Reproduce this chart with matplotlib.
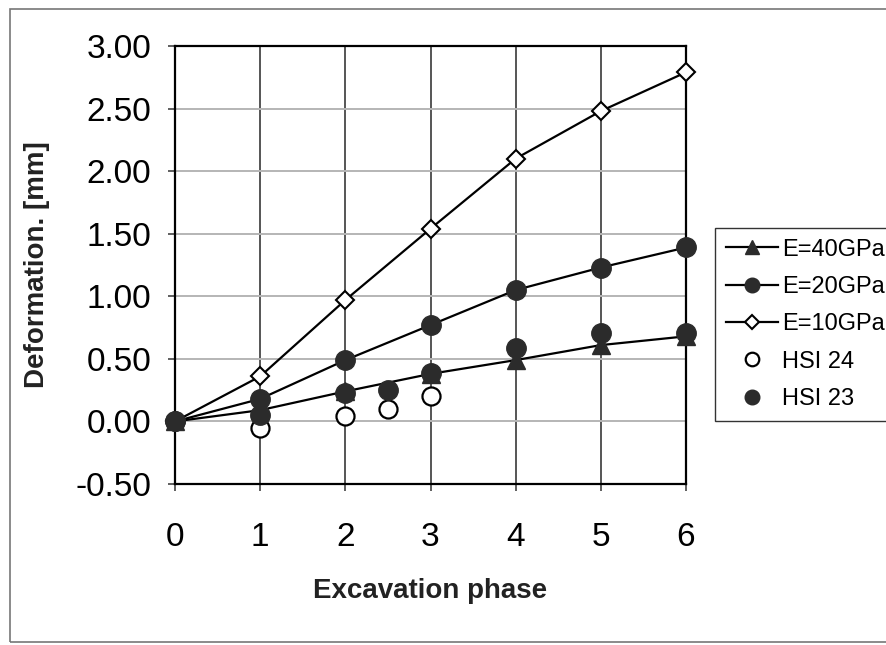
import matplotlib
matplotlib.use("Agg")
import matplotlib.pyplot as plt
from matplotlib.patches import Rectangle

plt.rcParams['font.family'] = ['Liberation Sans', 'DejaVu Sans']

# model curves, one value per excavation phase
phase = [0, 1, 2, 3, 4, 5, 6]
e40 = [0.00, 0.09, 0.24, 0.38, 0.49, 0.61, 0.68]
e20 = [0.00, 0.18, 0.49, 0.77, 1.05, 1.23, 1.39]
e10 = [0.00, 0.36, 0.97, 1.54, 2.10, 2.48, 2.79]

# measurements
hsi24_x = [1, 2, 2.5, 3]
hsi24_y = [-0.05, 0.04, 0.10, 0.20]
hsi23_x = [0, 1, 2, 2.5, 3, 4, 5, 6]
hsi23_y = [0.00, 0.05, 0.23, 0.25, 0.39, 0.59, 0.71, 0.71]

yticks = [-0.5, 0.0, 0.5, 1.0, 1.5, 2.0, 2.5, 3.0]

dark = '#2b2b2b'

fig = plt.figure(figsize=(8.86, 6.45), dpi=100)
ax = fig.add_axes([175/886, 1-484/645, 511/886, 438/645])

# outer frame of the chart area
fig.patches.append(Rectangle((10/886, 3/645), 0.995, 0.982, transform=fig.transFigure,
                             fill=False, edgecolor='#777777', lw=1.2, clip_on=False))

for x in phase[1:-1]:
    ax.axvline(x, color='#555555', lw=1.4, zorder=1)
for y in yticks[1:-1]:
    ax.axhline(y, color='#b5b5b5', lw=1.4, zorder=1)

ax.plot(phase, e40, color='black', lw=1.6, marker='^', ms=13, mfc=dark, mec=dark,
        label='E=40GPa', zorder=3, clip_on=False)
ax.plot(phase, e20, color='black', lw=1.6, marker='o', ms=14, mfc=dark, mec=dark,
        label='E=20GPa', zorder=3, clip_on=False)
ax.plot(phase, e10, color='black', lw=1.6, marker='D', ms=9, mfc='white', mec='black',
        mew=1.5, label='E=10GPa', zorder=3, clip_on=False)
ax.plot(hsi24_x, hsi24_y, ls='none', marker='o', ms=13, mfc='white', mec='black',
        mew=1.6, label='HSI 24', zorder=4, clip_on=False)
ax.plot(hsi23_x, hsi23_y, ls='none', marker='o', ms=14, mfc=dark, mec=dark,
        label='HSI 23', zorder=4, clip_on=False)

ax.set_xlim(0, 6)
ax.set_ylim(-0.5, 3.0)
ax.set_xticks(phase)
ax.set_yticks(yticks)
ax.set_yticklabels(['%.2f' % v for v in yticks])
ax.tick_params(axis='both', direction='out', length=5, width=1.2, labelsize=24, color='#444444')
ax.tick_params(axis='x', pad=22)
ax.tick_params(axis='y', pad=12)
for s in ax.spines.values():
    s.set_linewidth(1.6)

ax.set_xlabel('Excavation phase', fontsize=20, fontweight='bold', color='#222222')
ax.set_ylabel('Deformation. [mm]', fontsize=20, fontweight='bold', color='#222222')
ax.xaxis.set_label_coords(0.5, -0.215)
ax.yaxis.set_label_coords(-0.245, 0.5)

leg = ax.legend(loc='upper left', bbox_to_anchor=(715/886, 1-228/645),
                bbox_transform=fig.transFigure, fontsize=17, frameon=True,
                fancybox=False, edgecolor='black', markerscale=0.75,
                handlelength=2.2, handletextpad=0.2, labelspacing=0.65,
                borderpad=0.45, borderaxespad=0)
leg.get_frame().set_linewidth(1.0)

fig.savefig('out.png', dpi=100)
